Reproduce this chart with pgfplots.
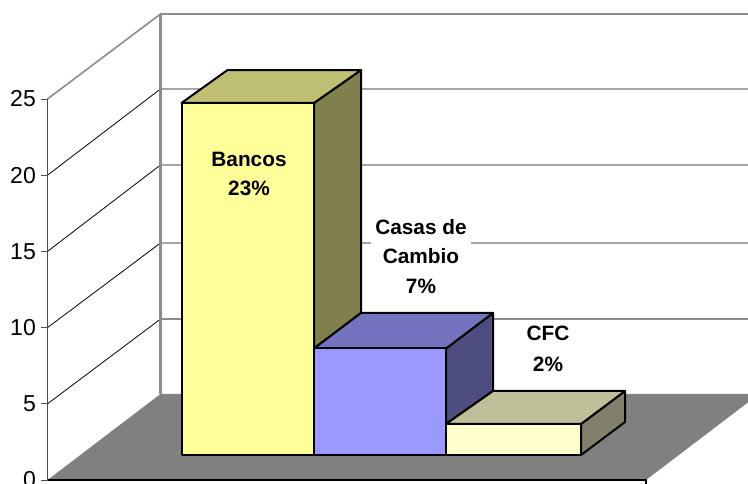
\documentclass[border=0pt]{standalone}
\usepackage{pgfplots}
\pgfplotsset{compat=1.18}
\usepackage{fontspec}
\setmainfont{Liberation Sans}
\definecolor{yf}{HTML}{FFFF99}\definecolor{yt}{HTML}{BFBF73}\definecolor{ys}{HTML}{80804D}
\definecolor{bf}{HTML}{9999FF}\definecolor{bt}{HTML}{7373BF}\definecolor{bs}{HTML}{4D4D80}
\definecolor{pf}{HTML}{FFFFCC}\definecolor{pt}{HTML}{BFBF99}\definecolor{ps}{HTML}{80806B}
\definecolor{wallg}{HTML}{8C8C8C}
\begin{document}
\begin{tikzpicture}[x=0.75pt,y=0.75pt]
\useasboundingbox (0,0) rectangle (748,484);
\begin{axis}[
  at={(47.5,0)},
  anchor=south west,
  scale only axis,
  width=525.375pt,height=363pt,
  xmin=47.5,xmax=748,ymin=-0.2625,ymax=31.496,
  clip=false,
  axis line style={draw=none},
  xtick=\empty,
  ytick={0,5,10,15,20,25},
  ytick pos=left,
  tick align=outside,
  major tick length=4.9pt,
  ytick style={draw=black!70,line width=0.6pt},
  yticklabel style={font=\fontsize{17.3}{18}\selectfont,/pgf/number format/assume math mode=true,xshift=-0.3pt},
  every axis plot/.append style={forget plot},
]
% left wall and back wall grid
\addplot[black,line width=0.6pt] coordinates {(47.5,10)(160.5,15.551)(748,15.551)};
\addplot[black,line width=0.6pt] coordinates {(47.5,15)(160.5,20.669)(748,20.669)};
\addplot[black,line width=0.6pt] coordinates {(47.5,20)(160.5,25.656)(748,25.656)};
\addplot[black,line width=0.6pt] coordinates {(47.5,5)(160.5,10.564)};
\addplot[wallg,line width=1.1pt] coordinates {(160.5,10.564)(748,10.564)};
\addplot[wallg,line width=1.2pt] coordinates {(47.5,25)(160.5,30.577)(748,30.577)};
\addplot[wallg,line width=1.9pt] coordinates {(160.5,5.643)(160.5,30.577)};
\addplot[black!70,line width=1pt] coordinates {(47.5,0)(47.5,25)};
% floor
\addplot[fill=black!50,draw=none] coordinates {(47.5,0)(646,0)(748,5.09)(748,5.643)(160.5,5.643)} -- cycle;
\addplot[black,line width=0.8pt] coordinates {(47.5,0)(646,0)(646,-0.2625)};
% Bancos
\addplot[fill=ys,draw=black,line width=1.5pt,line join=round] coordinates {(314,24.74)(361,26.90)(361,10.96)(314,8.63)} -- cycle;
\addplot[fill=yt,draw=black,line width=1.5pt,line join=round] coordinates {(181.5,24.74)(227.5,26.90)(361,26.90)(314,24.74)} -- cycle;
\addplot[fill=yf,draw=black,line width=1.5pt,line join=round] coordinates {(181.5,1.64)(181.5,24.74)(314,24.74)(314,1.64)} -- cycle;
% Casas de Cambio
\addplot[fill=bs,draw=black,line width=1.5pt,line join=round] coordinates {(446,8.63)(493,10.96)(493,5.84)(446,3.675)} -- cycle;
\addplot[fill=bt,draw=black,line width=1.5pt,line join=round] coordinates {(314,8.63)(361,10.96)(493,10.96)(446,8.63)} -- cycle;
\addplot[fill=bf,draw=black,line width=1.5pt,line join=round] coordinates {(314,1.64)(314,8.63)(446,8.63)(446,1.64)} -- cycle;
% CFC
\addplot[fill=ps,draw=black,line width=1.5pt,line join=round] coordinates {(581,3.675)(625,5.84)(625,3.806)(581,1.64)} -- cycle;
\addplot[fill=pt,draw=black,line width=1.5pt,line join=round] coordinates {(446,3.675)(493,5.84)(625,5.84)(581,3.675)} -- cycle;
\addplot[fill=pf,draw=black,line width=1.5pt,line join=round] coordinates {(446,1.64)(446,3.675)(581,3.675)(581,1.64)} -- cycle;
% labels
\node[font=\fontsize{15.6}{22}\selectfont\bfseries,align=center,inner sep=0pt] at (axis cs:249,20.1) {Bancos\\23\%};
\node[font=\fontsize{15.6}{22}\selectfont\bfseries,align=center,fill=white,inner xsep=3pt,inner ysep=2pt] at (axis cs:421,14.68) {Casas de\\Cambio\\7\%};
\node[font=\fontsize{15.6}{23}\selectfont\bfseries,align=center,inner sep=0pt] at (axis cs:548,8.62) {CFC\\2\%};
\end{axis}
\end{tikzpicture}
\end{document}
